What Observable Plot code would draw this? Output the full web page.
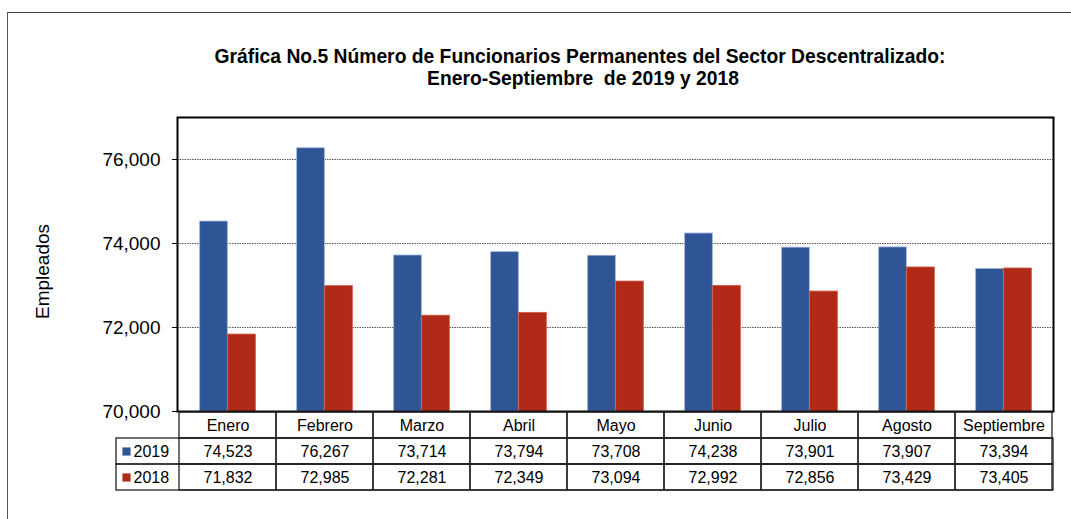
<!DOCTYPE html>
<html><head><meta charset="utf-8">
<script src="https://cdn.jsdelivr.net/npm/d3@7"></script>
<script src="https://cdn.jsdelivr.net/npm/@observablehq/plot@0.6"></script>
<style>
html,body{margin:0;padding:0;background:#fff;}
#wrap{position:relative;width:1071px;height:519px;overflow:hidden;font-family:"Liberation Sans",Arial,sans-serif;}
#border{position:absolute;left:7px;top:12px;right:-5px;bottom:-5px;border-top:1.5px solid #444;border-left:1.5px solid #555;}
.t{position:absolute;left:0;width:1160px;text-align:center;font-weight:bold;font-size:19.3px;line-height:22px;color:#000;}
#chartA,#chartB{position:absolute;left:0;}
#chartA{top:0;} #chartB{top:410px;}
svg{overflow:visible;}
</style></head>
<body><div id="wrap"><div id="border"></div>
<div class="t" style="top:46px">Gráfica No.5 Número de Funcionarios Permanentes del Sector Descentralizado:</div>
<div class="t" style="top:68px;left:3px">Enero-Septiembre&nbsp; de 2019 y 2018</div>
<div id="chartA"></div><div id="chartB"></div></div>
<script>
const months = ["Enero","Febrero","Marzo","Abril","Mayo","Junio","Julio","Agosto","Septiembre"];
const series = ["2019","2018"];
const values2019 = [74523,76267,73714,73794,73708,74238,73901,73907,73394];
const values2018 = [71832,72985,72281,72349,73094,72992,72856,73429,73405];
const yTicks = [70000,72000,74000,76000];
const yDomain = [70000,77000];
const colors = ["#2f5597","#b02a17"];

const font = "Liberation Sans, Arial, sans-serif";
const rows2019 = months.map((m,i)=>({month:m, series:"2019", value:values2019[i]}));
const rows2018 = months.map((m,i)=>({month:m, series:"2018", value:values2018[i]}));

const band = (1053-177)/months.length;
const barW = 28;
const gap = (band - 2*barW)/2;

const A = Plot.plot({
  width:1071, height:413,
  marginTop:117, marginBottom:2, marginLeft:177, marginRight:18,
  style:{background:"transparent", fontFamily:font, color:"#000", overflow:"visible"},
  x:{domain:months, padding:0, axis:null},
  y:{domain:yDomain, axis:null},
  marks:[
    Plot.ruleY(yTicks.slice(1), {stroke:"#555", strokeDasharray:"1.5,1"}),
    Plot.barY(rows2019, {x:"month", y1:yDomain[0], y2:"value", fill:colors[0], stroke:"#9fb4de", strokeWidth:0.8, insetLeft:gap, insetRight:band-gap-barW}),
    Plot.barY(rows2018, {x:"month", y1:yDomain[0], y2:"value", fill:colors[1], stroke:"#cf5a48", strokeWidth:0.8, insetLeft:gap+barW, insetRight:gap}),
    Plot.axisY({ticks:yTicks, tickFormat:d3.format(","), tickSize:5, tickPadding:12, fontSize:19, label:null}),
    Plot.text(["Empleados"], {frameAnchor:"left", textAnchor:"middle", dx:-135, dy:7, rotate:-90, fontSize:19}),
    Plot.frame({stroke:"#000", strokeWidth:2})
  ]
});
document.getElementById("chartA").appendChild(A);

const rowKeys = ["Mes", ...series];
const cells = [];
months.forEach((m,i)=>{
  cells.push({month:m, row:"Mes", text:m});
  cells.push({month:m, row:"2019", text:d3.format(",")(values2019[i])});
  cells.push({month:m, row:"2018", text:d3.format(",")(values2018[i])});
});

const B = Plot.plot({
  width:1071, height:83,
  marginTop:1, marginBottom:2, marginLeft:177, marginRight:18,
  style:{background:"transparent", fontFamily:font, color:"#000"},
  x:{domain:months, padding:0, axis:null},
  y:{domain:rowKeys, padding:0, axis:null},
  marks:[
    Plot.cell(series, {y:d=>d, fill:"none", stroke:"#222", strokeWidth:1.3, insetLeft:-61}),
    Plot.cell(cells, {x:"month", y:"row", fill:"none", stroke:"#222", strokeWidth:1.3}),
    Plot.text(cells, {x:"month", y:"row", text:"text", fontSize:16, fill:"#000"}),
    Plot.dot(series, {y:d=>d, frameAnchor:"left", dx:-51, symbol:"square", r:4.6, fill:(d,i)=>colors[i], stroke:"none"}),
    Plot.text(series, {y:d=>d, frameAnchor:"left", dx:-44, textAnchor:"start", fontSize:16, fill:"#000"})
  ]
});
document.getElementById("chartB").appendChild(B);
</script></body></html>
